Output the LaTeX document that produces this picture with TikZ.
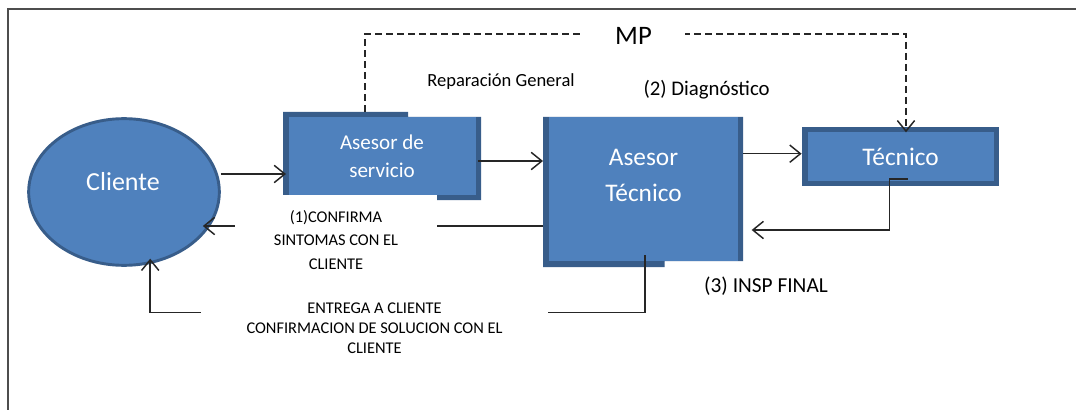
\documentclass[tikz,border=0pt]{standalone}
\usepackage{fontspec}
\setmainfont{Carlito}
\usetikzlibrary{arrows.meta,shapes.geometric}
\definecolor{boxfill}{HTML}{4F81BD}
\definecolor{boxdark}{HTML}{385D8A}
\definecolor{framec}{HTML}{4D4D4D}
\definecolor{linec}{HTML}{262626}
\begin{document}
\begin{tikzpicture}[x=0.75pt,y=-0.75pt,
  arr/.style={draw=linec, line width=1.1pt, -{Straight Barb[length=8pt,width=13pt,line width=1.1pt]}},
  dasharr/.style={draw=linec, line width=1.1pt, dash pattern=on 5.25pt off 3pt, -{Straight Barb[length=8pt,width=13pt,line width=1.1pt]}},
  darkpart/.style={fill=boxdark, draw=none},
  lightpart/.style={fill=boxfill, draw=none},
  boxtext/.style={text=white, align=center, inner sep=0pt},
  lbl/.style={text=black, align=center, inner sep=0pt},
  holder/.style={draw=none, inner sep=0pt, outer sep=0pt},
]
\useasboundingbox (0,0) rectangle (1076,410);
\fill[white] (0,0) rectangle (1076,410);
% frame
\draw[framec, line width=1.5pt] (8,410) -- (8,9) -- (1076,9);

% box bodies
\fill[darkpart] (283,112) -- (408,112) -- (408,117) -- (481,117) -- (481,200) -- (437,200) -- (437,195) -- (283,195) -- cycle;
\fill[lightpart] (288.6,117) rectangle (476,195);
\fill[darkpart] (543,117) -- (743,117) -- (743,261) -- (664.7,261) -- (664.7,267) -- (543,267) -- cycle;
\fill[lightpart] (549,117) rectangle (738,261);
\fill[darkpart] (801.6,127) rectangle (999.4,186);
\fill[lightpart] (807.5,132.5) rectangle (994,181);

% nodes
\node[ellipse, fill=boxfill, draw=boxdark, line width=2.2pt, minimum width=143pt, minimum height=110pt, inner sep=0pt] (cl) at (124,192) {};
\node[boxtext, font=\fontsize{19.5}{23}\selectfont] (cltext) at (123,182) {Cliente};
\node[holder, boxtext, minimum width=144pt, minimum height=66pt, font=\fontsize{15.8}{21}\selectfont] (as) at (382,156) {Asesor de\\servicio};
\node[holder, minimum width=150pt, minimum height=112.5pt] (at) at (643,192) {};
\node[boxtext, font=\fontsize{19}{27}\selectfont] (attext) at (643.5,175) {Asesor\\Técnico};
\node[holder, boxtext, minimum width=148.4pt, minimum height=44.25pt, font=\fontsize{19}{23}\selectfont] (tc) at (900.5,156.5) {Técnico};

% connectors
\draw[arr] (cl.east |- 0,174) -- (as.west |- 0,174);
\draw[arr] (as.east |- 0,161) -- (at.west |- 0,161);
\draw[arr] (at.east |- 0,153.7) -- (tc.west |- 0,153.7);
\coordinate (tcdrop) at (889.7,179);
\draw[arr, shorten >=6.5pt] (tcdrop) ++(18.1,0) -- (tcdrop) -- (tcdrop |- 0,230) -- (at.east |- 0,230);
\draw[arr, shorten >=-3pt] (at.west |- 0,226) -- (cl.-25 |- 0,226);
\draw[arr, shorten >=-4pt] (at.south) ++(2,-12) -- ++(0,57.7) -- (cl.-70 |- 0,312.7) -- (cl.-70);
\draw[dasharr, shorten >=-4pt] (as.north -| 365,0) -- (365,34) -- (906,34) -- (tc.north -| 906,0);

% labels
\node[lbl, fill=white, minimum width=151.5pt, font=\fontsize{12.3}{17.3}\selectfont] (l1) at (336,240) {(1)CONFIRMA\\SINTOMAS CON EL\\CLIENTE};
\node[lbl, fill=white, minimum width=260pt, font=\fontsize{12.3}{15}\selectfont] (l2) at (374.5,328) {ENTREGA A CLIENTE\\CONFIRMACION DE SOLUCION CON EL\\CLIENTE};
\node[lbl, fill=white, minimum width=77pt, minimum height=20pt, font=\fontsize{20}{24}\selectfont] (mp) at (633.5,35.5) {MP};
\node[lbl, font=\fontsize{13.9}{17}\selectfont] (rg) at (501,82) {Reparación General};
\node[lbl, font=\fontsize{15.6}{19}\selectfont] (dg) at (706.6,90) {(2) Diagnóstico};
\node[lbl, font=\fontsize{16}{19}\selectfont] (ins) at (766,286) {(3) INSP FINAL};
\end{tikzpicture}
\end{document}
